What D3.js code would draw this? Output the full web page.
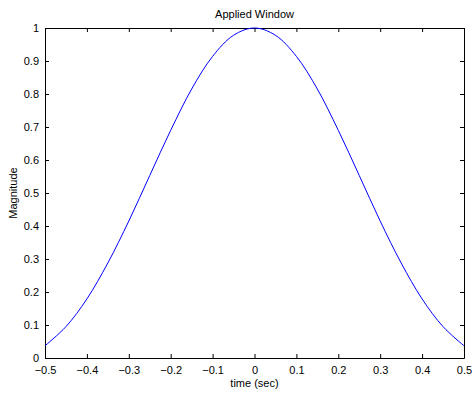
<!DOCTYPE html>
<html>
<head>
<meta charset="utf-8">
<script src="https://cdn.jsdelivr.net/npm/d3@7"></script>
<style>
  body { margin: 0; background: #fff; }
  svg { display: block; font-family: "Liberation Sans", Arial, sans-serif; }
</style>
</head>
<body>
<svg></svg>
<script>
const width = 472;
const height = 394;
const margin = {top: 28, right: 8, bottom: 36, left: 45};

// DATA
const timeSec = [-0.5, -0.45, -0.4, -0.35, -0.3, -0.25, -0.2, -0.15, -0.1, -0.05,
                 0, 0.05, 0.1, 0.15, 0.2, 0.25, 0.3, 0.35, 0.4, 0.45, 0.5];
const magnitude = [0.037, 0.095, 0.179, 0.288, 0.415, 0.553, 0.690, 0.815, 0.914, 0.978,
                   1.0, 0.978, 0.914, 0.815, 0.690, 0.553, 0.415, 0.288, 0.179, 0.095, 0.037];
const xTicks = [-0.5, -0.4, -0.3, -0.2, -0.1, 0, 0.1, 0.2, 0.3, 0.4, 0.5];
const yTicks = [0, 0.1, 0.2, 0.3, 0.4, 0.5, 0.6, 0.7, 0.8, 0.9, 1];

const data = timeSec.map((t, i) => ({t: t, m: magnitude[i]}));

// SCALES
const xScale = d3.scaleLinear()
                 .domain([-0.5, 0.5])
                 .range([margin.left, width - margin.right]);
const yScale = d3.scaleLinear()
                 .domain([0, 1])
                 .range([height - margin.bottom, margin.top]);

const svg = d3.select('svg')
              .attr('width', width)
              .attr('height', height);

// AXES (MATLAB style: ticks inside, on all four sides)
const fmt = d => d === 0 ? '0' : d3.format('')(d);
const xAxis = d3.axisBottom(xScale).tickValues(xTicks).tickSize(-4).tickSizeOuter(0).tickPadding(8).tickFormat(fmt);
const yAxis = d3.axisLeft(yScale).tickValues(yTicks).tickSize(-4).tickSizeOuter(0).tickPadding(6).tickFormat(fmt);
const xTop = d3.axisTop(xScale).tickValues(xTicks).tickSize(-4).tickSizeOuter(0).tickFormat('');
const yRight = d3.axisRight(yScale).tickValues(yTicks).tickSize(-4).tickSizeOuter(0).tickFormat('');

function style(g) {
    g.selectAll('.domain').attr('stroke', '#000');
    g.selectAll('.tick line').attr('stroke', '#000');
    g.selectAll('.tick text').attr('fill', '#000').style('font-size', '11px');
}

svg.append('g')
    .attr('transform', `translate(0, ${height - margin.bottom})`)
    .call(xAxis).call(style);
svg.append('g')
    .attr('transform', `translate(${margin.left}, 0)`)
    .call(yAxis).call(style);
svg.append('g')
    .attr('transform', `translate(0, ${margin.top})`)
    .call(xTop).call(style);
svg.append('g')
    .attr('transform', `translate(${width - margin.right}, 0)`)
    .call(yRight).call(style);

// LINE
const line = d3.line()
               .x(d => xScale(d.t))
               .y(d => yScale(d.m))
               .curve(d3.curveCatmullRom);

svg.append('path')
    .datum(data)
    .attr('d', line)
    .attr('fill', 'none')
    .attr('stroke', '#0000ff')
    .attr('stroke-width', 1);

// TEXT
svg.append('text')
    .attr('x', (margin.left + width - margin.right) / 2)
    .attr('y', 18)
    .style('text-anchor', 'middle')
    .style('font-size', '11px')
    .text('Applied Window');

svg.append('text')
    .attr('x', (margin.left + width - margin.right) / 2)
    .attr('y', 387)
    .style('text-anchor', 'middle')
    .style('font-size', '11px')
    .text('time (sec)');

svg.append('text')
    .attr('transform', 'rotate(-90)')
    .attr('x', -(margin.top + height - margin.bottom) / 2)
    .attr('y', 17)
    .style('text-anchor', 'middle')
    .style('font-size', '11px')
    .text('Magnitude');
</script>
</body>
</html>
